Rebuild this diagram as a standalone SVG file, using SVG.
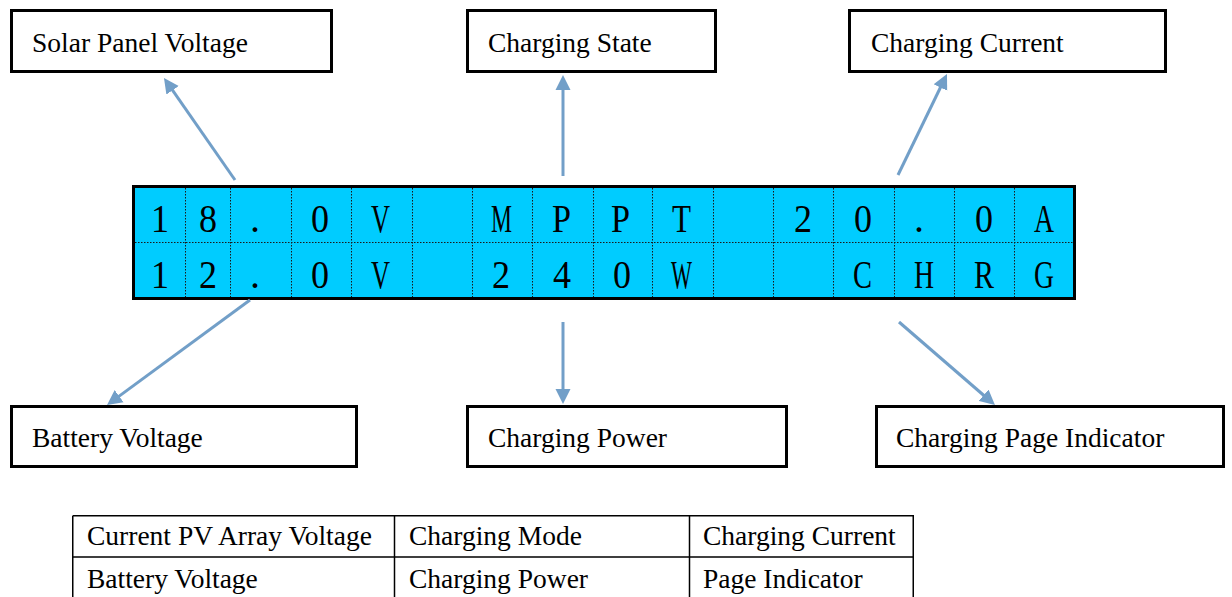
<svg xmlns="http://www.w3.org/2000/svg" width="1232" height="597" viewBox="0 0 1232 597">
<style>
.box{fill:#fff;stroke:#000;stroke-width:3}
.lbl{font-family:"Liberation Serif","Times New Roman",serif;font-size:27.5px;fill:#000}
.lcd{fill:#00CCFF;stroke:#000;stroke-width:3}
.grid{stroke:#1a1a1a;stroke-width:1;stroke-dasharray:1.5 1.5;fill:none}
.ch{font-family:"Liberation Serif","Times New Roman",serif;font-size:40px;fill:#000}
.conn{stroke:#729FC8;stroke-width:3;fill:none;marker-end:url(#arr)}
.tbl{stroke:#000;stroke-width:1.5;fill:none}
</style>
<defs>
<marker id="arr" markerUnits="userSpaceOnUse" markerWidth="16" markerHeight="16" viewBox="0 0 16 16" refX="5" refY="8" orient="auto">
<path d="M0,0.5 L15,8 L0,15.5 z" fill="#729FC8"/>
</marker>
</defs>

<g id="solar-panel-voltage"><rect class="box" x="11.5" y="10.5" width="320" height="61"/><text class="lbl" x="32" y="52">Solar Panel Voltage</text></g>
<g id="charging-state"><rect class="box" x="467.5" y="10.5" width="248" height="61"/><text class="lbl" x="488" y="52">Charging State</text></g>
<g id="charging-current"><rect class="box" x="849.5" y="10.5" width="316" height="61"/><text class="lbl" x="871" y="52">Charging Current</text></g>
<g id="battery-voltage"><rect class="box" x="11.5" y="406.5" width="345" height="60"/><text class="lbl" x="32" y="447">Battery Voltage</text></g>
<g id="charging-power"><rect class="box" x="467.5" y="406.5" width="319" height="60"/><text class="lbl" x="488" y="447">Charging Power</text></g>
<g id="charging-page-indicator"><rect class="box" x="876.5" y="406.5" width="347" height="60"/><text class="lbl" x="896" y="447">Charging Page Indicator</text></g>

<g id="lcd">
<rect class="lcd" x="133.5" y="186.5" width="941" height="112"/>
<path class="grid" d="M135,242.5H1073 M185.5,188V297 M230.5,188V297 M291.5,188V297 M351.5,188V297 M412.5,188V297 M472.5,188V297 M532.5,188V297 M593.5,188V297 M652.5,188V297 M713.5,188V297 M773.5,188V297 M833.5,188V297 M894.5,188V297 M954.5,188V297 M1014.5,188V297"/>
<g class="ch">
<text x="151" y="232" textLength="18" lengthAdjust="spacingAndGlyphs">1</text>
<text x="199" y="232" textLength="18" lengthAdjust="spacingAndGlyphs">8</text>
<text x="250" y="232">.</text>
<text x="311" y="232" textLength="18" lengthAdjust="spacingAndGlyphs">0</text>
<text x="371" y="232" textLength="19" lengthAdjust="spacingAndGlyphs">V</text>
<text x="491" y="232" textLength="21" lengthAdjust="spacingAndGlyphs">M</text>
<text x="552" y="232" textLength="19" lengthAdjust="spacingAndGlyphs">P</text>
<text x="611" y="232" textLength="19" lengthAdjust="spacingAndGlyphs">P</text>
<text x="672" y="232" textLength="19" lengthAdjust="spacingAndGlyphs">T</text>
<text x="794" y="232" textLength="18" lengthAdjust="spacingAndGlyphs">2</text>
<text x="854" y="232" textLength="18" lengthAdjust="spacingAndGlyphs">0</text>
<text x="914" y="232">.</text>
<text x="975" y="232" textLength="18" lengthAdjust="spacingAndGlyphs">0</text>
<text x="1034" y="232" textLength="20" lengthAdjust="spacingAndGlyphs">A</text>

<text x="151" y="288" textLength="18" lengthAdjust="spacingAndGlyphs">1</text>
<text x="199" y="288" textLength="18" lengthAdjust="spacingAndGlyphs">2</text>
<text x="250" y="288">.</text>
<text x="311" y="288" textLength="18" lengthAdjust="spacingAndGlyphs">0</text>
<text x="371" y="288" textLength="19" lengthAdjust="spacingAndGlyphs">V</text>
<text x="492" y="288" textLength="18" lengthAdjust="spacingAndGlyphs">2</text>
<text x="553" y="288" textLength="18" lengthAdjust="spacingAndGlyphs">4</text>
<text x="613" y="288" textLength="18" lengthAdjust="spacingAndGlyphs">0</text>
<text x="671" y="288" textLength="21" lengthAdjust="spacingAndGlyphs">W</text>
<text x="853" y="288" textLength="19" lengthAdjust="spacingAndGlyphs">C</text>
<text x="914" y="288" textLength="20" lengthAdjust="spacingAndGlyphs">H</text>
<text x="974" y="288" textLength="20" lengthAdjust="spacingAndGlyphs">R</text>
<text x="1034" y="288" textLength="20" lengthAdjust="spacingAndGlyphs">G</text>
</g>
</g>

<g id="connectors">
<line class="conn" x1="235" y1="180" x2="169.7" y2="86.2"/>
<line class="conn" x1="563" y1="176" x2="563" y2="85"/>
<line class="conn" x1="898" y1="175" x2="942.6" y2="83"/>
<line class="conn" x1="250" y1="300" x2="115.1" y2="399.1"/>
<line class="conn" x1="563" y1="322" x2="563" y2="394"/>
<line class="conn" x1="899" y1="322" x2="987.4" y2="398.5"/>
</g>

<g id="legend-table">
<path class="tbl" d="M72.75,515.75H913.25V600 M72.75,515.75V600 M72.75,557H913.25 M394.5,515.75V600 M689.5,515.75V600"/>
<text class="lbl" x="87" y="545">Current PV Array Voltage</text>
<text class="lbl" x="409" y="545">Charging Mode</text>
<text class="lbl" x="703" y="545">Charging Current</text>
<text class="lbl" x="87" y="588">Battery Voltage</text>
<text class="lbl" x="409" y="588">Charging Power</text>
<text class="lbl" x="703" y="588">Page Indicator</text>
</g>
</svg>
